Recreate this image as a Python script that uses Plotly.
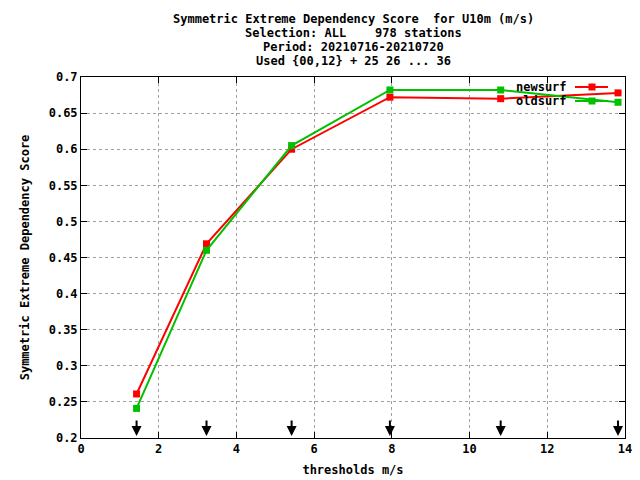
import plotly.graph_objects as go

thresholds = [1.43, 3.23, 5.42, 7.95, 10.8, 13.82]
newsurf = [0.261, 0.469, 0.600, 0.672, 0.670, 0.678]
oldsurf = [0.241, 0.460, 0.605, 0.682, 0.682, 0.665]
series_names = ["newsurf", "oldsurf"]
series_colors = ["#ff0000", "#00c000"]

x_ticks = [0, 2, 4, 6, 8, 10, 12, 14]
y_ticks = [0.2, 0.25, 0.3, 0.35, 0.4, 0.45, 0.5, 0.55, 0.6, 0.65, 0.7]
y_labels = ["0.2", "0.25", "0.3", "0.35", "0.4", "0.45", "0.5", "0.55", "0.6", "0.65", "0.7"]

title_lines = [
    "Symmetric Extreme Dependency Score  for U10m (m/s)",
    "Selection: ALL    978 stations",
    "Period: 20210716-20210720",
    "Used {00,12} + 25 26 ... 36",
]

FONT = "DejaVu Sans Mono"
PW, PH = 544.0, 361.0  # plot area size in px

fig = go.Figure()
for name, vals, col in zip(series_names, [newsurf, oldsurf], series_colors):
    fig.add_trace(go.Scatter(
        x=thresholds, y=vals, name=name, mode="lines+markers",
        line=dict(color=col, width=2),
        marker=dict(symbol="square", size=7, color=col),
        showlegend=False,
    ))

annotations = []
shapes = []
for t in thresholds:
    annotations.append(dict(
        x=t, y=y_ticks[0], xref="x", yref="y", ax=0, ay=-19,
        showarrow=True, arrowhead=2, arrowsize=1, arrowwidth=2,
        arrowcolor="black", standoff=2, text="",
    ))
for i, line in enumerate(title_lines):
    annotations.append(dict(
        x=0.5, y=1 + (58 - 14 * i) / PH, xref="paper", yref="paper",
        text="<b>" + line + "</b>", showarrow=False,
        font=dict(family=FONT, size=12, color="black"),
        xanchor="center", yanchor="middle",
    ))

# gnuplot-style legend: text right-aligned, sample line to the right
for i, (name, col) in enumerate(zip(series_names, series_colors)):
    yp = (361 - (87 + 14 * i - 77)) / PH
    annotations.append(dict(
        x=(569 - 81) / PW, y=yp, xref="paper", yref="paper",
        text="<b>" + name + "</b>", showarrow=False,
        font=dict(family=FONT, size=12, color="black"),
        xanchor="right", yanchor="middle",
    ))
    shapes.append(dict(
        type="line", xref="paper", yref="paper",
        x0=(575 - 81) / PW, x1=(608 - 81) / PW, y0=yp, y1=yp,
        line=dict(color=col, width=2),
    ))
    shapes.append(dict(
        type="rect", xref="paper", yref="paper",
        x0=(592 - 81 - 3.5) / PW, x1=(592 - 81 + 3.5) / PW,
        y0=yp - 3.5 / PH, y1=yp + 3.5 / PH,
        line=dict(width=0), fillcolor=col,
    ))

axis_common = dict(
    showline=True, linecolor="black", linewidth=1, mirror="allticks",
    ticks="inside", ticklen=6, tickcolor="black",
    showgrid=True, gridcolor="#a0a0a0", griddash="3px,3px", gridwidth=1,
    zeroline=False, automargin=False,
    tickfont=dict(family=FONT, size=12, color="black"),
)

fig.update_layout(
    width=640, height=480,
    margin=dict(l=81, r=15, t=77, b=42, autoexpand=False),
    paper_bgcolor="white", plot_bgcolor="white",
    font=dict(family=FONT, size=12, color="black"),
    xaxis=dict(
        range=[0, 14], tickvals=x_ticks,
        ticktext=["<b>%d</b>" % v for v in x_ticks],
        title=dict(text="<b>thresholds m/s</b>", standoff=10,
                   font=dict(family=FONT, size=12)),
        **axis_common,
    ),
    yaxis=dict(
        range=[0.2, 0.7], tickvals=y_ticks,
        ticktext=["<b>" + s + "</b>" for s in y_labels],
        title=dict(text="<b>Symmetric Extreme Dependency Score</b>", standoff=16,
                   font=dict(family=FONT, size=12)),
        **axis_common,
    ),
    annotations=annotations,
    shapes=shapes,
    showlegend=False,
)

fig.write_html(
    "out.html",
    config={"displayModeBar": False},
    post_script="document.body.style.margin='0';document.body.style.overflow='hidden';",
)
